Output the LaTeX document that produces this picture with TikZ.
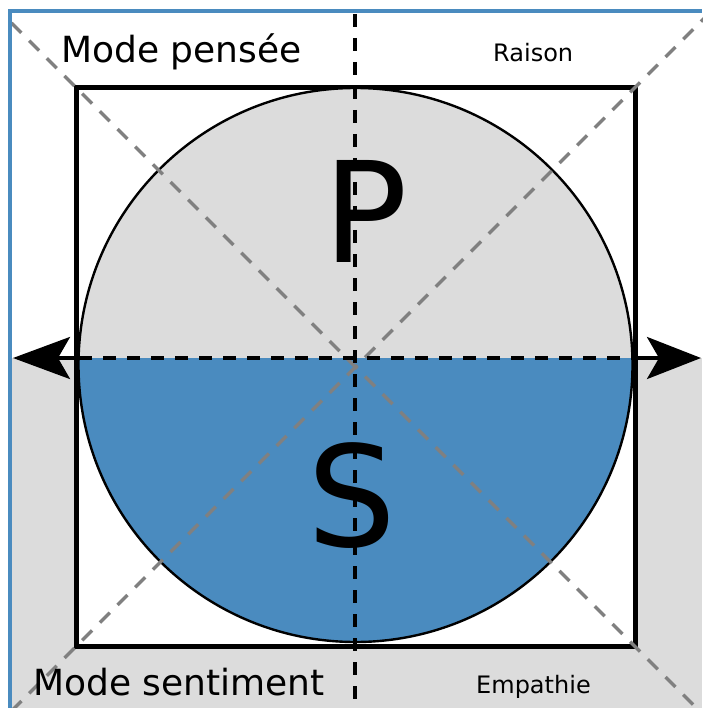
\documentclass[tikz,border=0pt]{standalone}
\usepackage{fontspec}
\setmainfont{DejaVu Sans}
\usetikzlibrary{positioning, arrows.meta, calc}
\definecolor{modeblue}{HTML}{4A8BBF}
\definecolor{modegray}{HTML}{DCDCDC}
\definecolor{guidegray}{HTML}{808080}

\begin{document}
\begin{tikzpicture}[x=1pt, y=-1pt,
  guide/.style={draw=guidegray, line width=3.4pt, dash pattern=on 14pt off 11pt},
  axisline/.style={draw=black, line width=3.6pt, dash pattern=on 13pt off 11pt},
  bigletter/.style={font=\fontsize{140}{140}\selectfont, inner sep=0pt},
  modelabel/.style={font=\fontsize{36}{40}\selectfont, inner sep=0pt, anchor=base west},
  sidelabel/.style={font=\fontsize{24}{28}\selectfont, inner sep=0pt, anchor=base west}]
\useasboundingbox (0,0) rectangle (702,708);
\fill[white] (0,0) rectangle (702,708);
\fill[modegray] (10,358) rectangle (702,708);

\node[draw, line width=5pt, fill=white, minimum size=559pt, inner sep=0pt] (sq) at (355.5,367) {};
\node[circle, minimum size=554pt, inner sep=0pt] (circ) at (355.5,365) {};

% two halves of the disc, split on the axis
\begin{scope}
  \clip (0,0) rectangle (702,358);
  \fill[modegray] (circ.center) circle (277pt);
\end{scope}
\begin{scope}
  \clip (0,358) rectangle (702,708);
  \fill[modeblue] (circ.center) circle (277pt);
\end{scope}
\draw[line width=2.4pt] (circ.center) circle (277pt);

% guides
\draw[guide] ($(sq.north west)!-0.11!(sq.south east)$) -- ($(sq.south east)!-0.13!(sq.north west)$);
\draw[guide] ($(sq.north east)!-0.13!(sq.south west)$) -- ($(sq.south west)!-0.13!(sq.north east)$);

\coordinate (vtop) at (355,14);
\coordinate (vbot) at (355,712);
\coordinate (hl) at (79,358);
\coordinate (hr) at (632,358);
\coordinate (tipl) at (13,358);
\coordinate (tipr) at (701,358);
\draw[axisline] (vtop) -- (vbot);
\draw[axisline] (hl) -- (hr);
\draw[line width=3.6pt, -{Stealth[length=57pt, width=42pt, inset=12pt]}] (hl) -- (tipl);
\draw[line width=3.6pt, -{Stealth[length=54pt, width=42pt, inset=12pt]}] (hr) -- (tipr);

\node[bigletter] (p) at (366,211) {P};
\node[bigletter] (s) at (352,496) {S};
\node[modelabel] (pensee) at (61,63) {Mode pensée};
\node[sidelabel] (raison) at (493,62) {Raison};
\node[modelabel] (sentiment) at (33,695) {Mode sentiment};
\node[sidelabel] (empathie) at (476,693) {Empathie};

\draw[modeblue, line width=3.5pt] (10,708) -- (10,11) -- (702,11);
\end{tikzpicture}
\end{document}
